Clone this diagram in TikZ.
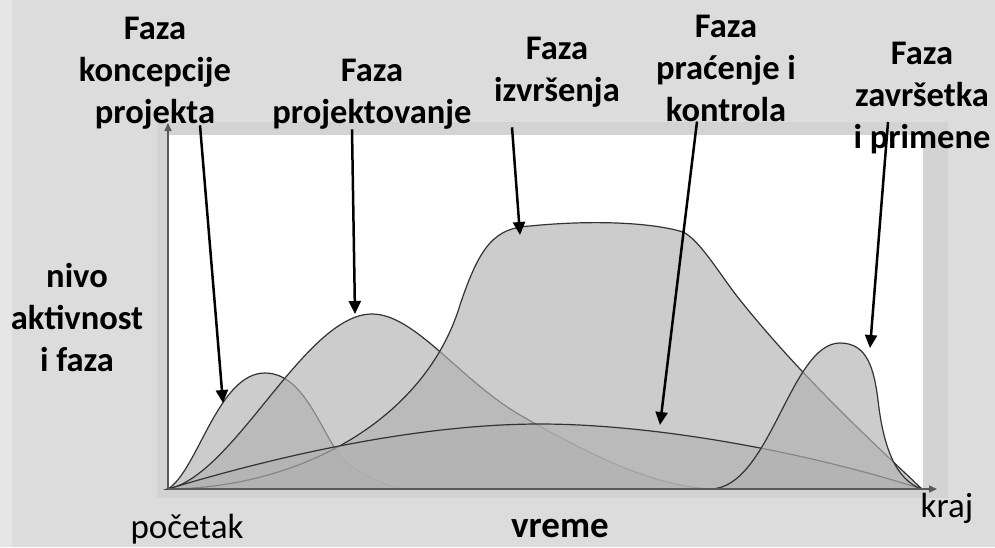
\documentclass[tikz,border=0pt]{standalone}
\usepackage{fontspec}
\setmainfont{Carlito}
\usetikzlibrary{arrows.meta, positioning}

\definecolor{bggray}{HTML}{DCDCDC}
\definecolor{edgegray}{HTML}{E6E6E6}
\definecolor{panelgray}{HTML}{D3D3D3}

\begin{document}
\begin{tikzpicture}[
            x=1pt, y=-1pt,
            phase/.style={draw=black!80, line width=1.2pt, fill=black!30, fill opacity=0.66},
            pointer/.style={-{Triangle[length=13pt,width=12pt]}, line width=2.5pt},
            axisline/.style={-{Triangle[length=8pt,width=7pt]}, line width=1.4pt, black!65},
            phasetext/.style={font=\bfseries\fontsize{34.5}{42}\selectfont, align=center, inner sep=0pt},
            endtext/.style={font=\fontsize{35}{42}\selectfont, inner sep=0pt}
        ]
            \useasboundingbox (0,0) rectangle (995,547);
            \fill[bggray] (0,0) rectangle (995,547);
            \fill[edgegray] (0,0) rectangle (12,547);
            \fill[panelgray] (157,122) rectangle (948,498);
            \fill[white] (168,135) rectangle (923,489);

            \coordinate (O) at (168,489);
            \coordinate (E) at (922,489);
            \coordinate (ytop) at (168,123);
            \coordinate (xend) at (937,489);

            \path[phase] (O) .. controls (198,470) and (218,373) .. (265,373) .. controls (310,373) and (325,450) .. (350,465) .. controls (370,478) and (385,487) .. (410,489) -- cycle;
            \path[phase] (O) .. controls (235,475) and (305,314) .. (372,314) .. controls (415,314) and (460,380) .. (520,415) .. controls (590,455) and (650,485) .. (710,489) -- cycle;
            \path[phase] (O) .. controls (300,488) and (425,420) .. (460,305) .. controls (480,245) and (495,228) .. (530,226) .. controls (590,220) and (650,222) .. (683,232) .. controls (700,240) and (720,275) .. (740,300) .. controls (800,375) and (870,440) .. (E) -- cycle;
            \path[phase] (O) .. controls (280,455) and (420,424) .. (540,424) .. controls (650,424) and (800,450) .. (E) -- cycle;
            \path[phase] (710,489) .. controls (770,489) and (790,343) .. (840,343) .. controls (868,343) and (874,370) .. (878,400) .. controls (883,445) and (895,480) .. (E) -- cycle;

            \draw[axisline] (O) -- (ytop);
            \draw[axisline] (O) -- (xend);

            \node[phasetext] (konc) at (155,73) {Faza\\koncepcije\\projekta};
            \node[phasetext] (proj) at (372,94) {Faza\\projektovanje};
            \node[phasetext] (izvr) at (557,72) {Faza\\izvršenja};
            \node[phasetext] (prac) at (726,68) {Faza\\praćenje i\\kontrola};
            \node[phasetext] (zavr) at (922,98) {Faza\\završetka\\i primene};
            \node[phasetext] (nivo) at (77,318) {nivo\\aktivnost\\i faza};
            \node[endtext, anchor=base] (pocetak) at (187,538) {početak};
            \node[endtext, anchor=base] (kraj) at (947,517) {kraj};
            \node[phasetext, font=\bfseries\fontsize{37}{42}\selectfont, anchor=base] (vreme) at (560,537) {vreme};

            \coordinate (koncT) at (223,403);
            \coordinate (projT) at (355,314);
            \coordinate (izvrT) at (520,235);
            \coordinate (pracT) at (660,425);
            \coordinate (zavrT) at (870,348);

            \draw[pointer] ([xshift=45pt,yshift=4pt]konc.south) -- (koncT);
            \draw[pointer] ([xshift=-20pt]proj.south) -- (projT);
            \draw[pointer] ([xshift=-45pt,yshift=-20pt]izvr.south) -- (izvrT);
            \draw[pointer] ([xshift=-29pt]prac.south) -- (pracT);
            \draw[pointer] ([xshift=-34pt,yshift=-24pt]zavr.center) -- (zavrT);
        \end{tikzpicture}
\end{document}
